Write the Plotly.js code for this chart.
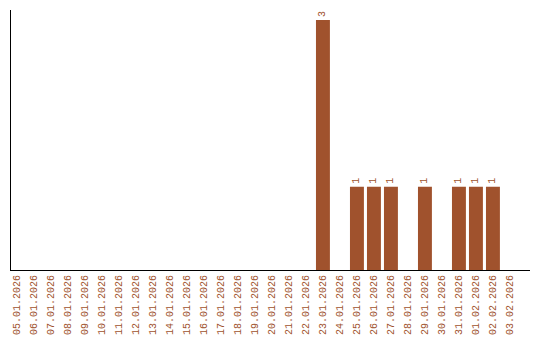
<!DOCTYPE html>
<html><head><meta charset="utf-8">
<script src="https://cdn.plot.ly/plotly-3.0.1.min.js"></script>
<style>html,body{margin:0;padding:0;background:#fff}</style>
</head><body><div id="chart" style="width:540px;height:340px"></div>
<script>
const dates = ["05.01.2026","06.01.2026","07.01.2026","08.01.2026","09.01.2026","10.01.2026","11.01.2026","12.01.2026","13.01.2026","14.01.2026","15.01.2026","16.01.2026","17.01.2026","18.01.2026","19.01.2026","20.01.2026","21.01.2026","22.01.2026","23.01.2026","24.01.2026","25.01.2026","26.01.2026","27.01.2026","28.01.2026","29.01.2026","30.01.2026","31.01.2026","01.02.2026","02.02.2026","03.02.2026"];
const counts = [0,0,0,0,0,0,0,0,0,0,0,0,0,0,0,0,0,0,3,0,1,1,1,0,1,0,1,1,1,0];
const labels = counts.map(v => v > 0 ? String(v) : "");
const col = "#A0522D";
Plotly.newPlot("chart", [{
  type: "bar", x: dates, y: counts, text: labels,
  textposition: "outside", textangle: -90, cliponaxis: false,
  textfont: {family: "Liberation Mono", size: 10, color: col},
  marker: {color: col}, hoverinfo: "none"
}], {
  width: 540, height: 340,
  margin: {l: 11, r: 10, t: 10, b: 70},
  paper_bgcolor: "#fff", plot_bgcolor: "#fff",
  bargap: 0.18, showlegend: false,
  xaxis: {type: "category", range: [-0.35, 30.18], tickangle: -90,
    tickfont: {family: "Liberation Mono", size: 10, color: col},
    showline: true, linecolor: "#000", linewidth: 1, ticks: "", showgrid: false, zeroline: false},
  yaxis: {range: [0, 3.12], showline: true, linecolor: "#000", linewidth: 1,
    showticklabels: false, ticks: "", showgrid: false, zeroline: false}
}, {staticPlot: true});
</script></body></html>
